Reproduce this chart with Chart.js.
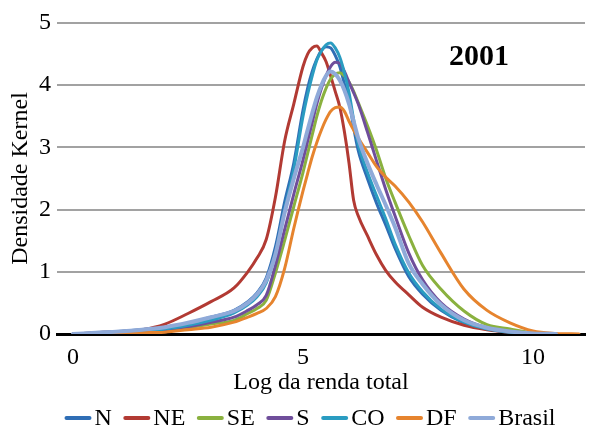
<!DOCTYPE html>
<html>
<head>
<meta charset="utf-8">
<script src="https://cdn.jsdelivr.net/npm/chart.js@4.4.1/dist/chart.umd.min.js"></script>
<style>
  html, body { margin: 0; padding: 0; background: #fff; }
</style>
</head>
<body>
<canvas id="kernelChart" width="590" height="434"></canvas>
<script>
// grade do log da renda onde as densidades foram lidas (mais fina perto dos picos)
const logRenda = [0, 0.5, 1, 1.5, 2, 2.5, 3, 3.5, 3.8, 4, 4.2, 4.4, 4.6, 4.8,
                  5, 5.1, 5.2, 5.3, 5.4, 5.5, 5.6, 5.7, 5.8, 5.9, 6, 6.1,
                  6.2, 6.4, 6.6, 6.8, 7, 7.3, 7.6, 8, 8.5, 9, 9.5, 10, 10.5, 11];

const densN      = [0, 0.02, 0.04, 0.07, 0.10, 0.17, 0.27, 0.38, 0.52, 0.66, 0.90, 1.40, 2.12, 2.75,
                    3.60, 3.95, 4.22, 4.42, 4.56, 4.62, 4.60, 4.48, 4.30, 4.02, 3.76, 3.32,
                    2.95, 2.50, 2.10, 1.75, 1.38, 0.92, 0.64, 0.38, 0.18, 0.08, 0.03, 0.01, 0, null];
const densNE     = [0, 0.02, 0.04, 0.07, 0.16, 0.33, 0.52, 0.74, 1.00, 1.22, 1.52, 2.20, 3.10, 3.70,
                    4.30, 4.50, 4.60, 4.63, 4.52, 4.38, 4.15, 3.90, 3.65, 3.25, 2.75, 2.15,
                    1.90, 1.58, 1.27, 1.02, 0.84, 0.63, 0.43, 0.27, 0.14, 0.07, 0.03, 0.01, 0, null];
const densSE     = [0, 0.01, 0.02, 0.03, 0.05, 0.10, 0.16, 0.22, 0.33, 0.41, 0.54, 0.98, 1.50, 2.05,
                    2.60, 2.90, 3.20, 3.50, 3.75, 3.95, 4.10, 4.18, 4.20, 4.15, 4.05, 3.90,
                    3.72, 3.35, 2.95, 2.50, 2.12, 1.58, 1.10, 0.72, 0.37, 0.15, 0.08, 0.02, 0, null];
const densS      = [0, 0.01, 0.02, 0.04, 0.07, 0.12, 0.19, 0.27, 0.38, 0.47, 0.62, 1.10, 1.68, 2.25,
                    2.80, 3.10, 3.40, 3.70, 3.95, 4.15, 4.30, 4.37, 4.35, 4.22, 4.05, 3.88,
                    3.70, 3.25, 2.78, 2.32, 1.90, 1.30, 0.87, 0.50, 0.24, 0.10, 0.04, 0.01, 0, null];
const densCO     = [0, 0.01, 0.03, 0.05, 0.08, 0.14, 0.22, 0.34, 0.47, 0.60, 0.82, 1.30, 2.00, 2.65,
                    3.50, 3.85, 4.15, 4.40, 4.55, 4.65, 4.68, 4.60, 4.45, 4.20, 3.88, 3.45,
                    3.05, 2.60, 2.22, 1.85, 1.45, 0.98, 0.68, 0.40, 0.19, 0.08, 0.03, 0.01, 0, null];
const densDF     = [0, 0.00, 0.01, 0.02, 0.03, 0.07, 0.11, 0.19, 0.27, 0.33, 0.41, 0.60, 1.05, 1.70,
                    2.30, 2.58, 2.85, 3.08, 3.28, 3.45, 3.58, 3.64, 3.65, 3.58, 3.42, 3.28,
                    3.15, 2.92, 2.69, 2.52, 2.38, 2.12, 1.80, 1.30, 0.72, 0.38, 0.18, 0.05, 0.01, 0];
const densBrasil = [0, 0.02, 0.04, 0.07, 0.11, 0.18, 0.27, 0.37, 0.50, 0.64, 0.86, 1.28, 1.95, 2.50,
                    3.00, 3.28, 3.55, 3.80, 4.00, 4.15, 4.22, 4.18, 4.08, 3.92, 3.70, 3.42,
                    3.15, 2.75, 2.40, 2.07, 1.72, 1.13, 0.80, 0.47, 0.22, 0.10, 0.04, 0.01, 0, null];

const regioes = ['N', 'NE', 'SE', 'S', 'CO', 'DF', 'Brasil'];
const series = [densN, densNE, densSE, densS, densCO, densDF, densBrasil];
const xTicks = [0, 5, 10];
const yTicks = [0, 1, 2, 3, 4, 5];
const ano = '2001';

const cores = ['#2F6EB5', '#B23A33', '#8AB13F', '#6F4E9B', '#2A9CC1', '#E6842E', '#8FAAD9'];
const fonte = '"Liberation Serif", "Times New Roman", serif';

Chart.defaults.font.family = fonte;
Chart.defaults.color = '#000';

const toPoints = ys => logRenda
  .map((x, i) => ({ x: x, y: ys[i] }))
  .filter(p => p.y !== null);

// legenda desenhada à mão: traço curto + nome, centrada embaixo
const legenda = {
  id: 'legenda',
  afterDraw(chart) {
    const ctx = chart.ctx;
    ctx.save();
    ctx.font = '24px ' + fonte;
    const amostra = 27, gapTexto = 3, gapItem = 11.5;
    const larguras = regioes.map(r => ctx.measureText(r).width);
    const total = larguras.reduce((a, b) => a + b, 0)
      + regioes.length * (amostra + gapTexto) + (regioes.length - 1) * gapItem;
    let x = 310 - total / 2;
    const y = 418;
    regioes.forEach((r, i) => {
      ctx.strokeStyle = cores[i];
      ctx.lineWidth = 4;
      ctx.lineCap = 'round';
      ctx.beginPath();
      ctx.moveTo(x + 2, y);
      ctx.lineTo(x + amostra - 2, y);
      ctx.stroke();
      x += amostra + gapTexto;
      ctx.fillStyle = '#000';
      ctx.textBaseline = 'middle';
      ctx.textAlign = 'left';
      ctx.fillText(r, x, y + 1);
      x += larguras[i] + gapItem;
    });
    ctx.restore();
  }
};

// rótulo do ano no canto superior direito do gráfico
const rotuloAno = {
  id: 'rotuloAno',
  afterDraw(chart) {
    const ctx = chart.ctx;
    ctx.save();
    ctx.font = 'bold 30px ' + fonte;
    ctx.fillStyle = '#000';
    ctx.textAlign = 'center';
    ctx.textBaseline = 'middle';
    ctx.fillText(ano, 479, 57);
    ctx.restore();
  }
};

new Chart(document.getElementById('kernelChart'), {
  type: 'line',
  data: {
    datasets: regioes.map((r, i) => ({
      label: r,
      data: toPoints(series[i]),
      borderColor: cores[i],
      backgroundColor: cores[i],
      borderWidth: r === 'Brasil' ? 4 : 3,
      pointRadius: 0,
      cubicInterpolationMode: 'monotone',
      borderCapStyle: 'round',
      borderJoinStyle: 'round',
      fill: false,
      order: regioes.length - i
    }))
  },
  options: {
    responsive: false,
    animation: false,
    layout: { padding: { left: 0, right: 5, top: 23, bottom: 35 } },
    plugins: {
      legend: { display: false },
      tooltip: { enabled: false }
    },
    scales: {
      x: {
        type: 'linear',
        min: -0.348,
        max: 11.13,
        afterBuildTicks: s => { s.ticks = xTicks.map(v => ({ value: v })); },
        afterFit: s => { s.height = 65; },
        grid: { display: false, drawTicks: false },
        border: { display: true, color: '#000', width: 3 },
        ticks: { font: { size: 24 }, color: '#000', padding: 9, maxRotation: 0 },
        title: {
          display: true,
          text: 'Log da renda total',
          font: { size: 24 },
          color: '#000',
          padding: { top: 0, bottom: 2 }
        }
      },
      y: {
        min: 0,
        max: 5,
        afterBuildTicks: s => { s.ticks = yTicks.map(v => ({ value: v })); },
        afterFit: s => { s.width = 57; },
        grid: {
          drawTicks: false,
          lineWidth: 2,
          color: c => c.tick.value === 0 ? 'rgba(0,0,0,0)' : '#A2A2A2'
        },
        border: { display: false },
        ticks: { font: { size: 24 }, color: '#000', padding: 6 },
        title: {
          display: true,
          text: 'Densidade Kernel',
          font: { size: 24 },
          color: '#000',
          padding: { top: 6, bottom: 0 }
        }
      }
    }
  },
  plugins: [legenda, rotuloAno]
});
</script>
</body>
</html>
